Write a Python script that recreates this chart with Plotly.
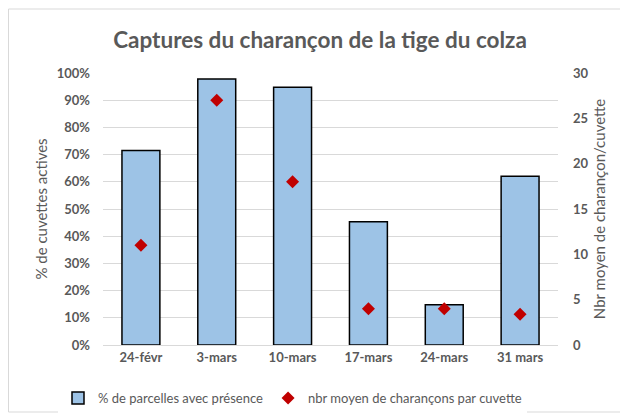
import plotly.graph_objects as go

categories = ["24-févr", "3-mars", "10-mars", "17-mars", "24-mars", "31 mars"]
pct_presence = [71.5, 97.8, 94.8, 45.3, 14.8, 62.0]
nbr_moyen = [11.0, 27.0, 18.0, 4.0, 4.0, 3.4]

font_family = "Lato, 'Open Sans', sans-serif"
grey = "#595959"

# page has an 8px body margin: figure is drawn 620x408 at (8, 8)
W, H = 620, 408
L, R, T, B = 95, 70, 65, 71
pw, ph = W - L - R, H - T - B

fig = go.Figure()
fig.add_trace(go.Bar(
    x=categories, y=pct_presence, name="% de parcelles avec présence",
    marker=dict(color="#9DC3E6", line=dict(color="#000000", width=1.5)),
    width=0.5, yaxis="y",
))
fig.add_trace(go.Scatter(
    x=categories, y=nbr_moyen, name="nbr moyen de charançons par cuvette",
    mode="markers", marker=dict(symbol="diamond", color="#C00000", size=10),
    yaxis="y2",
))

fig.update_layout(
    width=W, height=H,
    margin=dict(l=L, r=R, t=T, b=B, autoexpand=False),
    paper_bgcolor="white", plot_bgcolor="white",
    font=dict(family=font_family, color=grey, size=13),
    title=dict(text="Captures du charançon de la tige du colza", x=(320 - 8) / W, xanchor="center",
               y=1 - (40 - 8) / H, yanchor="middle",
               font=dict(size=22.5, color=grey, family=font_family, weight="bold")),
    xaxis=dict(showgrid=False, showline=True, linecolor="#D9D9D9", linewidth=1,
               tickfont=dict(size=13, color=grey, weight="bold"), ticks="", automargin=False),
    yaxis=dict(range=[0, 100], dtick=10, ticksuffix="%", showgrid=True,
               gridcolor="#D9D9D9", gridwidth=1, zeroline=False, automargin=False,
               tickfont=dict(size=13, color=grey, weight="bold"),
               ticklabelstandoff=12,
               title=dict(text="% de cuvettes actives", font=dict(size=15, color=grey), standoff=5)),
    yaxis2=dict(range=[0, 30], dtick=5, overlaying="y", side="right", showgrid=False,
                zeroline=False, automargin=False, tickfont=dict(size=13, color=grey, weight="bold"),
                ticklabelstandoff=14,
                title=dict(text="Nbr moyen de charançon/cuvette", font=dict(size=15, color=grey), standoff=6)),
    legend=dict(orientation="h", xref="paper", yref="paper",
                x=(50 - L) / pw, xanchor="left", y=-(390 - (T + ph)) / ph, yanchor="middle",
                font=dict(size=13, color=grey), itemwidth=30, traceorder="normal"),
    shapes=[dict(type="rect", xref="paper", yref="paper",
                 x0=(0.5 - L) / pw, x1=(W - 0.5 - L) / pw, y0=-(H - 4 - (T + ph)) / ph, y1=(T + ph - 1) / ph,
                 line=dict(color="#D9D9D9", width=1), fillcolor="rgba(0,0,0,0)", layer="below")],
)

fig.write_html("out.html")
